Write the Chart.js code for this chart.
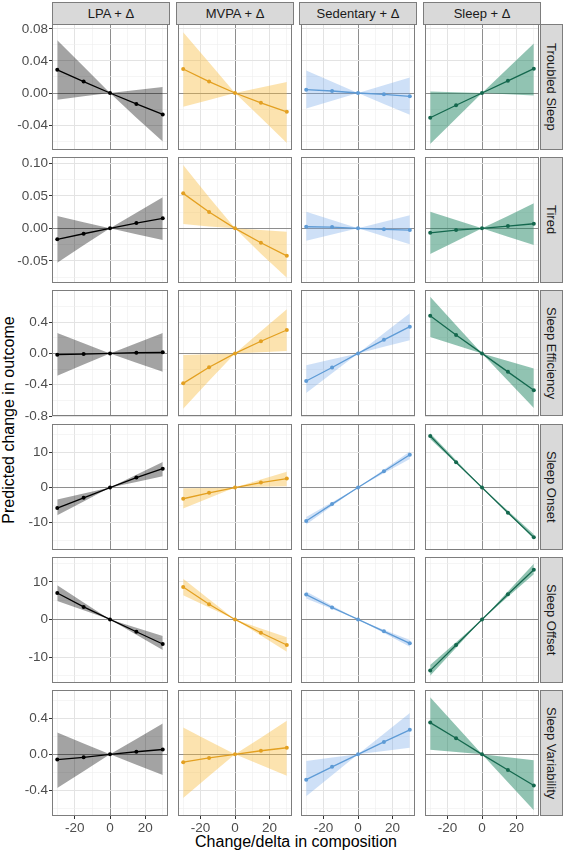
<!DOCTYPE html>
<html>
<head>
<meta charset="utf-8">
<script src="https://cdn.jsdelivr.net/npm/chart.js@4.4.1/dist/chart.umd.min.js"></script>
<style>
html,body{margin:0;padding:0;background:#fff;}
body{width:565px;height:852px;position:relative;overflow:hidden;font-family:"Liberation Sans",Arial,sans-serif;}
canvas.cv{position:absolute;}
.strip{position:absolute;background:#d9d9d9;border:1px solid #7d7d7d;box-sizing:border-box;color:#1a1a1a;font-size:13px;display:flex;align-items:center;justify-content:center;white-space:nowrap;}
.strip.r span{writing-mode:vertical-rl;}
#ytitle{position:absolute;left:-191px;top:410px;width:400px;height:20px;line-height:20px;text-align:center;font-size:16px;color:#000;transform:rotate(-90deg);white-space:nowrap;}
#xtitle{position:absolute;left:96px;top:832px;width:400px;height:20px;line-height:20px;text-align:center;font-size:16px;color:#000;white-space:nowrap;}
</style>
</head>
<body>
<div id="ytitle">Predicted change in outcome</div>
<div id="xtitle">Change/delta in composition</div>
<script>
// ---------- DATA ----------
const components = ['LPA + Δ', 'MVPA + Δ', 'Sedentary + Δ', 'Sleep + Δ'];
const outcomes = ['Troubled Sleep', 'Tired', 'Sleep Efficiency', 'Sleep Onset', 'Sleep Offset', 'Sleep Variability'];
const deltas = [-30, -15, 0, 15, 30];

const xMajorTicks = [-20, 0, 20];
const xMinorTicks = [-30, -10, 10, 30];

// Troubled Sleep  (rows: LPA, MVPA, Sedentary, Sleep)
const troubledSleepEst = [[0.029,0.0143,0,-0.0136,-0.0268],[0.030,0.0143,0,-0.0123,-0.0235],[0.0041,0.0025,0,-0.0017,-0.0042],[-0.0309,-0.0153,0,0.0152,0.0304]];
const troubledSleepLo  = [[-0.0083,-0.0042,0,-0.031,-0.0605],[-0.0173,-0.0087,0,-0.031,-0.0626],[-0.0194,-0.0097,0,-0.0136,-0.0272],[-0.0638,-0.032,0,-0.0015,-0.003]];
const troubledSleepHi  = [[0.0658,0.033,0,0.0037,0.0074],[0.076,0.038,0,0.0068,0.0136],[0.028,0.014,0,0.0097,0.0193],[0.002,0.001,0,0.031,0.0617]];

// Tired
const tiredEst = [[-0.0169,-0.0083,0,0.0082,0.0154],[0.0538,0.0251,0,-0.0222,-0.0422],[0.0025,0.002,0,-0.0015,-0.0026],[-0.0068,-0.0026,0,0.0035,0.0071]];
const tiredLo  = [[-0.0529,-0.026,0,-0.009,-0.018],[0.0066,0.003,0,-0.039,-0.076],[-0.019,-0.0095,0,-0.0123,-0.0246],[-0.0395,-0.0197,0,-0.0128,-0.0257]];
const tiredHi  = [[0.0189,0.0094,0,0.024,0.048],[0.0974,0.048,0,-0.0026,-0.0052],[0.0256,0.0128,0,0.01,0.02],[0.0256,0.0128,0,0.019,0.0385]];

// Sleep Efficiency
const efficiencyEst = [[-0.016,-0.009,0,0.009,0.013],[-0.383,-0.177,0,0.155,0.299],[-0.353,-0.18,0,0.173,0.341],[0.48,0.236,0,-0.236,-0.471]];
const efficiencyLo  = [[-0.286,-0.143,0,-0.118,-0.236],[-0.707,-0.35,0,0.014,0.029],[-0.505,-0.255,0,0.085,0.168],[0.21,0.105,0,-0.35,-0.698]];
const efficiencyHi  = [[0.26,0.13,0,0.13,0.26],[-0.02,-0.01,0,0.282,0.564],[-0.151,-0.076,0,0.256,0.513],[0.723,0.36,0,-0.097,-0.193]];

// Sleep Onset
const onsetEst = [[-5.86,-2.93,0,2.83,5.38],[-3.2,-1.5,0,1.42,2.55],[-9.55,-4.72,0,4.63,9.35],[14.7,7.17,0,-7.17,-14.2]];
const onsetLo  = [[-7.93,-3.95,0,1.6,3.2],[-6.0,-3.0,0,0.2,0.38],[-10.5,-5.25,0,4.05,8.1],[13.8,6.9,0,-7.35,-14.7]];
const onsetHi  = [[-3.4,-1.7,0,3.64,7.28],[-0.2,-0.1,0,2.26,4.53],[-8.4,-4.2,0,5.15,10.3],[15.5,7.75,0,-6.65,-13.3]];

// Sleep Offset
const offsetEst = [[7.04,3.33,0,-3.28,-6.53],[8.62,4.05,0,-3.54,-6.8],[6.61,3.17,0,-3.17,-6.35],[-13.6,-6.8,0,6.7,13.2]];
const offsetLo  = [[4.92,2.46,0,-4.06,-8.12],[6.43,3.2,0,-4.28,-8.57],[5.56,2.78,0,-3.62,-7.25],[-15.0,-7.5,0,6.0,12.0]];
const offsetHi  = [[9.07,4.5,0,-2.21,-4.42],[10.85,5.4,0,-2.38,-4.76],[7.4,3.7,0,-2.74,-5.48],[-12.1,-6.05,0,7.4,14.8]];

// Sleep Variability
const variabilityEst = [[-0.058,-0.033,0,0.029,0.054],[-0.087,-0.04,0,0.04,0.073],[-0.28,-0.138,0,0.138,0.272],[0.352,0.178,0,-0.174,-0.345]];
const variabilityLo  = [[-0.374,-0.187,0,-0.115,-0.229],[-0.483,-0.24,0,-0.118,-0.236],[-0.465,-0.232,0,0.036,0.073],[0.051,0.025,0,-0.31,-0.618]];
const variabilityHi  = [[0.243,0.121,0,0.17,0.341],[0.298,0.149,0,0.185,0.371],[-0.073,-0.036,0,0.229,0.458],[0.632,0.316,0,-0.032,-0.065]];

// Y axis ranges and ticks per row
const yRanges = [[-0.0712,0.0862],[-0.084,0.1097],[-0.80,0.81],[-17.8,18.1],[-16.9,16.6],[-0.683,0.713]];
const yMajorTicks = [[-0.04,0,0.04,0.08],[-0.05,0,0.05,0.10],[-0.8,-0.4,0,0.4],[-10,0,10],[-10,0,10],[-0.4,0,0.4]];
const yTickLabels = [['-0.04','0.00','0.04','0.08'],['-0.05','0.00','0.05','0.10'],['-0.8','-0.4','0.0','0.4'],['-10','0','10'],['-10','0','10'],['-0.4','0.0','0.4']];
const yMinorTicks = [[-0.06,-0.02,0.02,0.06],[-0.075,-0.025,0.025,0.075],[-0.6,-0.2,0.2,0.6],[-15,-5,5,15],[-15,-5,5,15],[-0.6,-0.2,0.2,0.6]];

const estRows = [troubledSleepEst, tiredEst, efficiencyEst, onsetEst, offsetEst, variabilityEst];
const loRows  = [troubledSleepLo, tiredLo, efficiencyLo, onsetLo, offsetLo, variabilityLo];
const hiRows  = [troubledSleepHi, tiredHi, efficiencyHi, onsetHi, offsetHi, variabilityHi];

// ---------- STYLE ----------
const lineColors = ['#000000', '#E3A021', '#5E9BD6', '#14684E'];
const ribbonColors = ['rgba(0,0,0,0.36)', 'rgba(248,188,64,0.42)', 'rgba(120,170,232,0.36)', 'rgba(25,130,95,0.48)'];
const FONT = '"Liberation Sans", Arial, sans-serif';
const TICK_SIZE = 13.5;
const colLeft = [52, 176, 299, 423], PW = 118;
const rowTop = [24, 157, 290, 424, 557, 690], PH = 126;

Chart.defaults.font.family = FONT;

const panelBorder = {
  id: 'panelBorder',
  afterDraw(chart) {
    const a = chart.chartArea, ctx = chart.ctx;
    ctx.save();
    ctx.strokeStyle = '#7d7d7d';
    ctx.lineWidth = 1;
    ctx.strokeRect(Math.round(a.left) + 0.5, Math.round(a.top) + 0.5, Math.round(a.right - a.left) - 1, Math.round(a.bottom - a.top) - 1);
    ctx.restore();
  }
};

function near(v, arr) { return arr.some(t => Math.abs(t - v) < 1e-9); }
function gridCol(v, majors) {
  if (Math.abs(v) < 1e-12) return '#8e8e8e';
  return near(v, majors) ? '#e3e3e3' : '#efefef';
}
function gridW(v, majors) {
  if (Math.abs(v) < 1e-12) return 1;
  return near(v, majors) ? 1 : 0.6;
}

// strips
components.forEach((name, c) => {
  const d = document.createElement('div');
  d.className = 'strip';
  d.style.left = colLeft[c] + 'px'; d.style.top = '2px';
  d.style.width = PW + 'px'; d.style.height = '23px';
  d.textContent = name;
  document.body.appendChild(d);
});
outcomes.forEach((name, r) => {
  const d = document.createElement('div');
  d.className = 'strip r';
  d.style.left = (colLeft[3] + PW - 1) + 'px'; d.style.top = rowTop[r] + 'px';
  d.style.width = '23px'; d.style.height = PH + 'px';
  const s = document.createElement('span'); s.textContent = name;
  d.appendChild(s);
  document.body.appendChild(d);
});

for (let r = 0; r < outcomes.length; r++) {
  for (let c = 0; c < components.length; c++) {
    const isLeft = c === 0, isBottom = r === outcomes.length - 1;
    const padT = 8, padB = isBottom ? 0 : 8;
    const padL = isLeft ? 0 : 2, padR = 2;
    const axisW = isLeft ? 52 : 0, axisH = isBottom ? 24 : 0;
    const cv = document.createElement('canvas');
    cv.className = 'cv';
    const W = padL + axisW + PW + padR, H = padT + PH + padB + axisH;
    cv.width = W; cv.height = H;
    cv.style.width = W + 'px'; cv.style.height = H + 'px';
    cv.style.left = (colLeft[c] - axisW - padL) + 'px';
    cv.style.top = (rowTop[r] - padT) + 'px';
    document.body.appendChild(cv);

    const est = estRows[r][c], lo = loRows[r][c], hi = hiRows[r][c];
    const yMaj = yMajorTicks[r], yMin = yMinorTicks[r], yLab = yTickLabels[r];
    const yAll = yMaj.concat(yMin).sort((a, b) => a - b);
    const xAll = xMajorTicks.concat(xMinorTicks).sort((a, b) => a - b);

    new Chart(cv, {
      type: 'line',
      data: {
        datasets: [
          { data: deltas.map((x, i) => ({ x, y: est[i] })), borderColor: lineColors[c], backgroundColor: lineColors[c],
            borderWidth: 1.3, pointRadius: 2, pointBorderWidth: 0, pointBackgroundColor: lineColors[c], fill: false, order: 0, tension: 0 },
          { data: deltas.map((x, i) => ({ x, y: hi[i] })), borderWidth: 0, pointRadius: 0, backgroundColor: ribbonColors[c], fill: '+1', order: 1 },
          { data: deltas.map((x, i) => ({ x, y: lo[i] })), borderWidth: 0, pointRadius: 0, fill: false, order: 2 }
        ]
      },
      options: {
        responsive: false, animation: false,
        layout: { padding: { left: padL, right: padR, top: padT, bottom: padB } },
        plugins: { legend: { display: false }, tooltip: { enabled: false } },
        scales: {
          x: {
            type: 'linear', min: -33, max: 33,
            afterBuildTicks: s => { s.ticks = xAll.map(v => ({ value: v })); },
            afterFit: s => { s.height = axisH; s.paddingLeft = 0; s.paddingRight = 0; },
            border: { display: false },
            grid: {
              color: ctx => ctx.tick ? gridCol(ctx.tick.value, xMajorTicks) : '#e3e3e3',
              lineWidth: ctx => ctx.tick ? gridW(ctx.tick.value, xMajorTicks) : 1,
              drawTicks: isBottom, tickLength: 3, tickWidth: 1,
              tickColor: ctx => (ctx.tick && near(ctx.tick.value, xMajorTicks)) ? '#333333' : 'rgba(0,0,0,0)'
            },
            ticks: {
              display: isBottom, autoSkip: false, maxRotation: 0, padding: 1, color: '#4d4d4d',
              font: { family: FONT, size: TICK_SIZE },
              callback: v => near(v, xMajorTicks) ? String(v) : ''
            }
          },
          y: {
            type: 'linear', min: yRanges[r][0], max: yRanges[r][1],
            afterBuildTicks: s => { s.ticks = yAll.map(v => ({ value: v })); },
            afterFit: s => { s.width = axisW; s.paddingTop = 0; s.paddingBottom = 0; },
            border: { display: false },
            grid: {
              color: ctx => ctx.tick ? gridCol(ctx.tick.value, yMaj) : '#e3e3e3',
              lineWidth: ctx => ctx.tick ? gridW(ctx.tick.value, yMaj) : 1,
              drawTicks: isLeft, tickLength: 3, tickWidth: 1,
              tickColor: ctx => (ctx.tick && near(ctx.tick.value, yMaj)) ? '#333333' : 'rgba(0,0,0,0)'
            },
            ticks: {
              display: isLeft, autoSkip: false, padding: 1, color: '#4d4d4d',
              font: { family: FONT, size: TICK_SIZE },
              callback: v => { const i = yMaj.findIndex(t => Math.abs(t - v) < 1e-9); return i >= 0 ? yLab[i] : ''; }
            }
          }
        }
      },
      plugins: [panelBorder]
    });
  }
}
</script>
</body>
</html>
